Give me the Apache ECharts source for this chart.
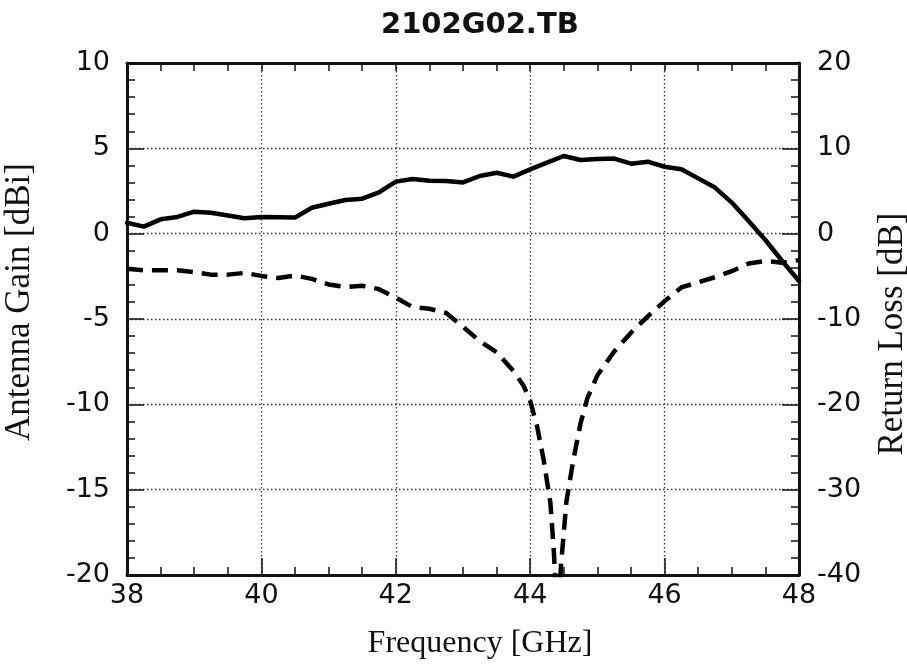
<!DOCTYPE html>
<html>
<head>
<meta charset="utf-8">
<script src="https://cdn.jsdelivr.net/npm/echarts@6/dist/echarts.min.js"></script>
<style>html,body{margin:0;padding:0;background:#fff;}#c{width:907px;height:668px;}</style>
</head>
<body>
<div id="c"></div>
<script>
// Antenna gain (left axis, dBi)
var gainFreq = [38,38.25,38.5,38.75,39,39.25,39.5,39.75,40,40.25,40.5,40.75,41,41.25,41.5,41.75,42,42.25,42.5,42.75,43,43.25,43.5,43.75,44,44.25,44.5,44.75,45,45.25,45.5,45.75,46,46.25,46.5,46.75,47,47.25,47.5,47.75,48];
var gainValues = [0.64,0.41,0.84,0.98,1.29,1.23,1.07,0.9,0.98,0.96,0.94,1.52,1.75,1.97,2.05,2.42,3.05,3.2,3.1,3.08,3.0,3.38,3.57,3.34,3.77,4.16,4.55,4.32,4.38,4.4,4.1,4.22,3.92,3.77,3.24,2.7,1.82,0.74,-0.37,-1.6,-2.77];
// Return loss (right axis, dB)
var rlFreq = [38,38.25,38.5,38.75,39,39.25,39.5,39.75,40,40.25,40.5,40.75,41,41.25,41.5,41.75,42,42.25,42.5,42.75,43,43.25,43.5,43.75,43.9,44,44.1,44.2,44.3,44.35,44.41,44.46,44.54,44.64,44.75,44.85,45,45.25,45.5,45.75,46,46.25,46.5,46.75,47,47.25,47.5,47.75,48];
var rlValues = [-4.1,-4.3,-4.3,-4.3,-4.5,-4.8,-4.8,-4.6,-4.95,-5.2,-4.9,-5.3,-5.95,-6.25,-6.1,-6.5,-7.5,-8.6,-8.8,-9.3,-10.9,-12.6,-13.9,-16.1,-17.8,-19.6,-22.5,-26.5,-31.5,-37,-46,-38.7,-31.3,-26.6,-22.2,-19.3,-16.6,-13.8,-11.6,-9.7,-7.9,-6.3,-5.7,-5.1,-4.4,-3.5,-3.2,-3.4,-3.1];
var xTicks = {min: 38, max: 48, interval: 2};
var leftTicks = {min: -20, max: 10, interval: 5};
var rightTicks = {min: -40, max: 20, interval: 10};
var titleText = '2102G02.TB';
var xName = 'Frequency [GHz]';
var leftName = 'Antenna Gain [dBi]';
var rightName = 'Return Loss [dB]';

function zip(a, b) { return a.map(function (v, i) { return [v, b[i]]; }); }

var tickFont = {fontFamily: 'DejaVu Sans', fontSize: 27, color: '#111'};
var nameFont = {fontFamily: 'Liberation Serif', fontSize: 32, color: '#111'};
var lineC = '#111';
var dotted = {show: true, lineStyle: {color: '#333', width: 1.3, type: [1.5, 2.5]}};

var chart = echarts.init(document.getElementById('c'), null, {renderer: 'canvas'});
chart.setOption({
  animation: false,
  backgroundColor: '#fff',
  title: {
    text: titleText, left: 376, top: 6,
    textStyle: {fontFamily: 'DejaVu Sans', fontWeight: 'bold', fontSize: 29, color: '#111'}
  },
  grid: {left: 127, right: 108, top: 63, bottom: 93, containLabel: false, outerBoundsMode: 'none'},
  xAxis: [{
    type: 'value', position: 'bottom', min: xTicks.min, max: xTicks.max, interval: xTicks.interval,
    name: xName, nameLocation: 'middle', nameGap: 53,
    nameTextStyle: Object.assign({padding: [0, 0, 0, 34]}, nameFont),
    axisLine: {show: true, onZero: false, lineStyle: {color: lineC, width: 3}},
    axisTick: {show: true, inside: true, length: 17, lineStyle: {color: lineC, width: 1.5}},
    minorTick: {show: true, splitNumber: 4, length: 8, lineStyle: {color: lineC, width: 1.5}},
    axisLabel: Object.assign({margin: 7}, tickFont),
    splitLine: dotted
  }, {
    type: 'value', position: 'top', min: xTicks.min, max: xTicks.max, interval: xTicks.interval,
    axisLine: {show: true, onZero: false, lineStyle: {color: lineC, width: 3}},
    axisTick: {show: true, inside: true, length: 8, lineStyle: {color: lineC, width: 1.5}},
    minorTick: {show: true, splitNumber: 4, length: 8, lineStyle: {color: lineC, width: 1.5}},
    axisLabel: {show: false},
    splitLine: {show: false}
  }],
  yAxis: [{
    type: 'value', position: 'left', min: leftTicks.min, max: leftTicks.max, interval: leftTicks.interval,
    name: leftName, nameLocation: 'middle', nameGap: 90,
    nameTextStyle: Object.assign({padding: [0, 0, 0, 34]}, nameFont, {fontSize: 35}),
    axisLine: {show: true, onZero: false, lineStyle: {color: lineC, width: 3}},
    axisTick: {show: true, inside: true, length: 17, lineStyle: {color: lineC, width: 1.5}},
    minorTick: {show: true, splitNumber: 5, length: 8, lineStyle: {color: lineC, width: 1.5}},
    axisLabel: Object.assign({margin: 17, padding: [0, 0, 18, 0]}, tickFont),
    splitLine: dotted
  }, {
    type: 'value', position: 'right', min: rightTicks.min, max: rightTicks.max, interval: rightTicks.interval,
    name: rightName, nameLocation: 'middle', nameGap: 76,
    nameTextStyle: Object.assign({padding: [0, 30, 0, 0]}, nameFont, {fontSize: 35}),
    axisLine: {show: true, onZero: false, lineStyle: {color: lineC, width: 3}},
    axisTick: {show: true, inside: true, length: 17, lineStyle: {color: lineC, width: 1.5}},
    minorTick: {show: true, splitNumber: 5, length: 8, lineStyle: {color: lineC, width: 1.5}},
    axisLabel: Object.assign({margin: 18, padding: [0, 0, 18, 0]}, tickFont),
    splitLine: {show: false}
  }],
  series: [{
    name: leftName, type: 'line', xAxisIndex: 0, yAxisIndex: 0,
    data: zip(gainFreq, gainValues), showSymbol: false, clip: true,
    lineStyle: {color: '#000', width: 4.5, type: 'solid', join: 'round', cap: 'round'}
  }, {
    name: rightName, type: 'line', xAxisIndex: 0, yAxisIndex: 1,
    data: zip(rlFreq, rlValues), showSymbol: false, clip: true,
    lineStyle: {color: '#000', width: 4.5, type: [16, 9], join: 'round'}
  }]
});
</script>
</body>
</html>
